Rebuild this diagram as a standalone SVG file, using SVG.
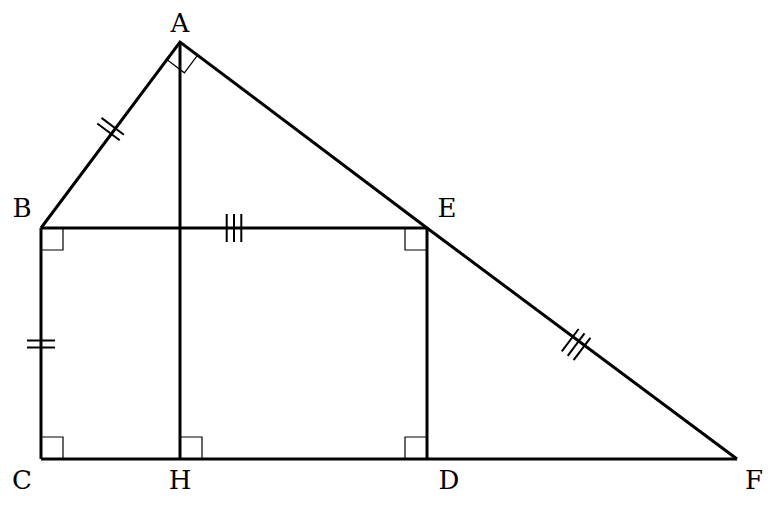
<svg xmlns="http://www.w3.org/2000/svg" width="774" height="508" viewBox="0 0 774 508">
<style>
.seg{fill:none;stroke:#000;stroke-width:3;stroke-linejoin:miter}
.ra{fill:none;stroke:#000;stroke-width:1.2}
.tk{stroke:#000;stroke-width:2}
.lbl{font-family:"DejaVu Serif",serif;font-size:26px;fill:#000;text-anchor:middle}
</style>
<rect width="774" height="508" fill="#fff"/>
<g id="connectors">
<polyline class="seg" points="41,228 180,42 427,228 737,459"/>
<line class="seg" x1="41" y1="228" x2="427" y2="228"/>
<line class="seg" x1="41" y1="228" x2="41" y2="459"/>
<line class="seg" x1="180" y1="42" x2="180" y2="459"/>
<line class="seg" x1="427" y1="228" x2="427" y2="459"/>
<line class="seg" x1="41" y1="459" x2="737" y2="459"/>
</g>
<g id="right-angles">
<polyline class="ra" points="166.8,59.6 184.4,72.8 197.6,55.2"/>
<polyline class="ra" points="41,250 63,250 63,228"/>
<polyline class="ra" points="405,228 405,250 427,250"/>
<polyline class="ra" points="41,437 63,437 63,459"/>
<polyline class="ra" points="180,437 202,437 202,459"/>
<polyline class="ra" points="405,459 405,437 427,437"/>
</g>
<g id="ticks">
<line class="tk" x1="97.3" y1="123.5" x2="119.7" y2="140.3"/>
<line class="tk" x1="101.5" y1="117.9" x2="123.9" y2="134.7"/>
<line class="tk" x1="27" y1="340.5" x2="55" y2="340.5"/>
<line class="tk" x1="27" y1="347.5" x2="55" y2="347.5"/>
<line class="tk" x1="226.7" y1="214" x2="226.7" y2="242"/>
<line class="tk" x1="234" y1="214" x2="234" y2="242"/>
<line class="tk" x1="241.3" y1="214" x2="241.3" y2="242"/>
<line class="tk" x1="584.5" y1="333.4" x2="567.7" y2="355.8"/>
<line class="tk" x1="590.4" y1="337.8" x2="573.6" y2="360.2"/>
<line class="tk" x1="578.6" y1="329" x2="561.8" y2="351.4"/>
</g>
<g id="A"><text class="lbl" x="180" y="32">A</text></g>
<g id="B"><text class="lbl" x="22" y="217">B</text></g>
<g id="E"><text class="lbl" x="447" y="217">E</text></g>
<g id="C"><text class="lbl" x="22" y="489">C</text></g>
<g id="H"><text class="lbl" x="180" y="489">H</text></g>
<g id="D"><text class="lbl" x="449" y="489">D</text></g>
<g id="F"><text class="lbl" x="754" y="489">F</text></g>
</svg>
